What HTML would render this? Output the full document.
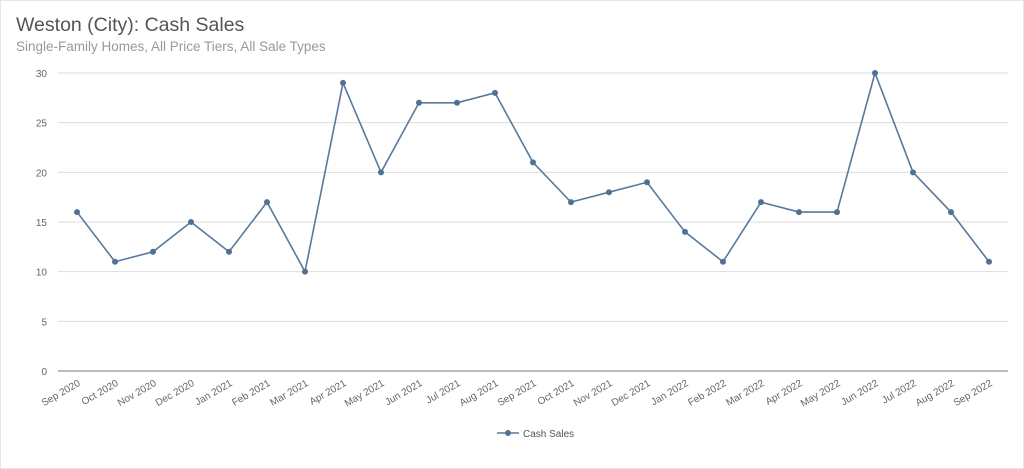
<!DOCTYPE html>
<html><head><meta charset="utf-8"><style>
html,body{margin:0;padding:0;background:#fff;}
body{width:1024px;height:469px;overflow:hidden;position:relative;font-family:"Liberation Sans",sans-serif;}
#frame{position:absolute;left:0;top:0;width:1022px;height:467px;border:1px solid #e6e6e6;}
#title{position:absolute;left:16px;top:14px;font-size:19.5px;color:#555;}
#sub{position:absolute;left:16px;top:39px;font-size:13.5px;color:#999;}
</style></head><body>
<div id="frame"></div>
<div id="title">Weston (City): Cash Sales</div>
<div id="sub">Single-Family Homes, All Price Tiers, All Sale Types</div>
<svg id="chart" width="1024" height="469" style="position:absolute;left:0;top:0"></svg>
<script>
const categories=["Sep 2020","Oct 2020","Nov 2020","Dec 2020","Jan 2021","Feb 2021","Mar 2021","Apr 2021","May 2021","Jun 2021","Jul 2021","Aug 2021","Sep 2021","Oct 2021","Nov 2021","Dec 2021","Jan 2022","Feb 2022","Mar 2022","Apr 2022","May 2022","Jun 2022","Jul 2022","Aug 2022","Sep 2022"];
const cashSales=[16,11,12,15,12,17,10,29,20,27,27,28,21,17,18,19,14,11,17,16,16,30,20,16,11];
const yTicks=[0,5,10,15,20,25,30];
const NS="http://www.w3.org/2000/svg";
const svg=document.getElementById('chart');
const x0=77,x1=989,y0=371,y1=73,yMax=30;
const xs=i=>x0+(x1-x0)*i/(categories.length-1);
const ys=v=>y0-(y0-y1)*v/yMax;
function mk(t,a){const e=document.createElementNS(NS,t);for(const k in a)e.setAttribute(k,a[k]);svg.appendChild(e);return e;}
yTicks.forEach(t=>{
  const l=mk('line',{x1:58,x2:1008,y1:ys(t),y2:ys(t),stroke:t===0?'#777':'#ddd','stroke-width':1});
  
  
  const tx=mk('text',{x:47,y:ys(t)+4,'text-anchor':'end','font-size':10,fill:'#666','font-family':'Liberation Sans, sans-serif'});
  tx.textContent=t;
  
  
});
categories.forEach((c,i)=>{
  const x=xs(i);
  const tx=mk('text',{x:x+4,y:385,'text-anchor':'end','font-size':10,fill:'#666','font-family':'Liberation Sans, sans-serif',transform:`rotate(-30 ${x+4} 385)`});
  tx.textContent=c;
  
  
});
const pts=cashSales.map((v,i)=>xs(i)+','+ys(v)).join(' ');
const pl=mk('polyline',{points:pts,fill:'none',stroke:'#58799a','stroke-width':1.6});


cashSales.forEach((v,i)=>{
  const c=mk('circle',{cx:xs(i),cy:ys(v),r:3,fill:'#4f7194'});
  
  
});
const lg=mk('line',{x1:497,x2:519,y1:433,y2:433,stroke:'#58799a','stroke-width':1.6});


const lc=mk('circle',{cx:508,cy:433,r:3,fill:'#4f7194'});


const lt=mk('text',{x:523,y:437,'font-size':10,fill:'#555','font-family':'Liberation Sans, sans-serif'});
lt.textContent='Cash Sales';


</script>
</body></html>
